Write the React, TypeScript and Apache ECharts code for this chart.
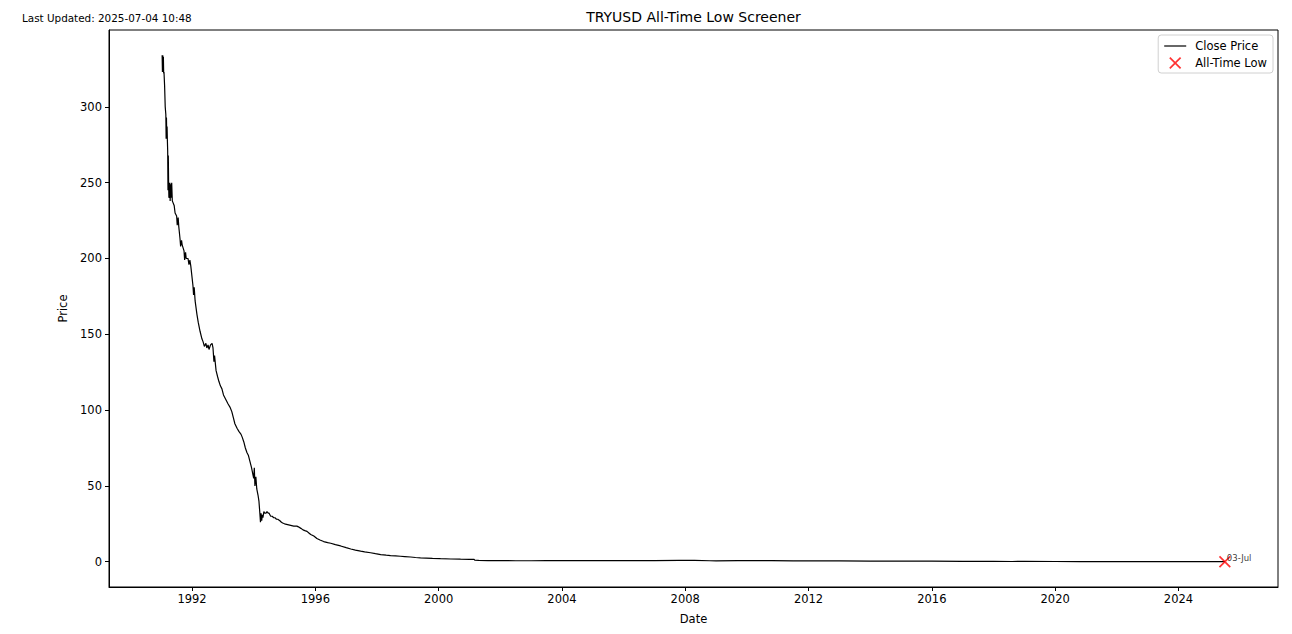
import React, { useEffect, useRef } from "react";
import * as echarts from "echarts";

// ---- data ----
const years: number[] = [
  1991.03, 1991.04, 1991.05, 1991.06, 1991.07, 1991.08, 1991.09, 1991.11, 1991.13,
  1991.15, 1991.16, 1991.17, 1991.18, 1991.19, 1991.2, 1991.21, 1991.22, 1991.23, 1991.24, 1991.25,
  1991.28, 1991.29, 1991.31, 1991.32, 1991.34, 1991.36, 1991.42, 1991.45,
  1991.5, 1991.52, 1991.55, 1991.57, 1991.61, 1991.63, 1991.66, 1991.68,
  1991.74, 1991.76, 1991.79, 1991.81, 1991.87, 1991.9, 1991.93, 1991.96,
  1992.03, 1992.05, 1992.07, 1992.1, 1992.16, 1992.2, 1992.26, 1992.32, 1992.36, 1992.4,
  1992.45, 1992.48, 1992.52, 1992.55, 1992.6, 1992.65, 1992.68, 1992.71, 1992.73, 1992.78,
  1992.83, 1992.87, 1992.92, 1992.97, 1993.02, 1993.07, 1993.12, 1993.17, 1993.23, 1993.29,
  1993.34, 1993.39, 1993.46, 1993.52, 1993.59, 1993.63, 1993.68, 1993.73, 1993.78, 1993.83,
  1993.88, 1993.93, 1993.97, 1994.0, 1994.02, 1994.04, 1994.07, 1994.1, 1994.14, 1994.17,
  1994.2, 1994.22, 1994.24, 1994.26, 1994.28, 1994.3, 1994.33, 1994.36, 1994.4, 1994.43,
  1994.47, 1994.5, 1994.55, 1994.6, 1994.65, 1994.69, 1994.74, 1994.78, 1994.85, 1994.9,
  1994.94, 1995.0, 1995.1, 1995.2, 1995.3, 1995.4, 1995.45, 1995.53, 1995.6, 1995.66,
  1995.73, 1995.79, 1995.85, 1995.95, 1996.05, 1996.15, 1996.27, 1996.4, 1996.5, 1996.65,
  1996.82, 1997.0, 1997.15, 1997.3, 1997.47, 1997.6, 1997.79, 1997.95, 1998.12, 1998.3,
  1998.44, 1998.6, 1998.76, 1998.9, 1999.09, 1999.25, 1999.41, 1999.6, 1999.8, 2000.06,
  2000.4, 2000.71, 2001.0, 2001.15, 2001.17, 2001.3, 2001.6, 2001.85, 2002.1, 2002.5,
  2003.0, 2003.5, 2004.0, 2004.4, 2005.0, 2006.0, 2006.4, 2007.0, 2007.8, 2008.3,
  2008.8, 2009.0, 2009.7, 2010.0, 2010.8, 2011.5, 2012.0, 2013.0, 2014.0, 2015.0,
  2016.0, 2017.0, 2018.0, 2018.6, 2019.0, 2020.0, 2020.8, 2021.0, 2021.9, 2022.0,
  2022.5, 2023.0, 2023.5, 2024.0, 2024.5, 2025.0, 2025.505,
];

const prices: number[] = [
  334, 323, 334, 323, 333, 322, 323, 314, 300,
  295, 279, 293, 280, 287, 278, 271, 245, 268, 250, 240,
  250, 238, 249, 240, 250, 238, 235, 230,
  228, 222, 227, 221, 213, 208, 212, 209,
  205, 199, 204, 200, 200, 196, 199, 195,
  182, 176, 181, 172, 163, 158, 152, 147, 145, 142,
  144, 141, 143, 140, 143, 144, 141, 132, 136, 126,
  122, 119, 116, 114, 110, 108, 106, 104, 102, 99,
  95, 91, 88, 86, 84, 82, 79, 75, 72, 70,
  66, 62, 58, 55, 62, 50, 56, 48, 44, 40,
  32, 26, 32, 27, 31, 29, 33, 32, 32, 33,
  32, 32, 30, 30, 29, 29, 28, 28, 27, 26,
  25.5, 25, 24.5, 24, 23.5, 23.5, 23, 22, 21, 20.5,
  20, 19, 18, 17, 15.3, 14.3, 13.3, 12.6, 12.2, 11.3,
  10.4, 9.3, 8.4, 7.7, 7.0, 6.5, 5.9, 5.3, 4.7, 4.3,
  4.0, 3.8, 3.6, 3.4, 3.1, 2.8, 2.6, 2.4, 2.2, 2.0,
  1.8, 1.65, 1.6, 1.55, 1.0, 0.85, 0.7, 0.72, 0.74, 0.65,
  0.65, 0.7, 0.7, 0.66, 0.74, 0.73, 0.66, 0.73, 0.86, 0.83,
  0.64, 0.62, 0.68, 0.67, 0.69, 0.6, 0.56, 0.53, 0.45, 0.38,
  0.34, 0.27, 0.25, 0.16, 0.18, 0.15, 0.12, 0.13, 0.07, 0.074,
  0.058, 0.05, 0.037, 0.032, 0.03, 0.026, 0.0253,
];

const atlYear: number[] = [2025.505];
const atlPrice: number[] = [0.0253];
const atlLabel: string[] = ["03-Jul"];

const xTicks: number[] = [1992, 1996, 2000, 2004, 2008, 2012, 2016, 2020, 2024];
const yTicks: number[] = [0, 50, 100, 150, 200, 250, 300];

const titleText = "TRYUSD All-Time Low Screener";
const updatedText = "Last Updated: 2025-07-04 10:48";

const FONT = "DejaVu Sans";
const X_PATH =
  "path://M0,1 L1,0 L5,4 L9,0 L10,1 L6,5 L10,9 L9,10 L5,6 L1,10 L0,9 L4,5 Z";
const LINE_ICON = "path://M0,0 L24,0 L24,1.5 L0,1.5 Z";

const GRID = { left: 109, right: 14, top: 30, bottom: 47 };
const W = 1292;

export default function App() {
  const ref = useRef<HTMLDivElement>(null);

  useEffect(() => {
    if (!ref.current) return;
    const chart = echarts.init(ref.current, null, { renderer: "svg" });

    const xMinD = Math.min(...years);
    const xMaxD = Math.max(...years);
    const yMinD = Math.min(...prices);
    const yMaxD = Math.max(...prices);
    const xPad = (xMaxD - xMinD) * 0.05;
    const yPad = (yMaxD - yMinD) * 0.05;

    const lineData = years.map((y, i) => [y, prices[i]]);
    const atlData = atlYear.map((y, i) => ({
      value: [y, atlPrice[i]],
      label: { formatter: atlLabel[i] },
    }));

    const plotCenter = (GRID.left + (W - GRID.right)) / 2;

    chart.setOption({
      animation: false,
      textStyle: { fontFamily: FONT },
      graphic: [
        {
          type: "text",
          x: plotCenter,
          y: 17,
          style: {
            text: titleText,
            fill: "#000",
            font: `normal 14px "${FONT}"`,
            align: "center",
            verticalAlign: "middle",
          },
        },
        {
          type: "text",
          x: 22,
          y: 18,
          style: {
            text: updatedText,
            fill: "#000",
            font: `normal 10.4px "${FONT}"`,
            align: "left",
            verticalAlign: "middle",
          },
        },
      ],
      legend: {
        orient: "vertical",
        right: 19,
        top: 35,
        padding: [5, 6, 4, 6],
        itemGap: 5,
        itemWidth: 22,
        itemHeight: 12,
        itemStyle: { borderWidth: 0 },
        backgroundColor: "#fff",
        borderColor: "#d0d0d0",
        borderWidth: 1,
        borderRadius: 3,
        textStyle: { fontFamily: FONT, fontSize: 11.5, color: "#000", padding: [0, 0, 0, 4] },
        data: [
          { name: "Close Price", icon: LINE_ICON, itemStyle: { color: "#222" } },
          { name: "All-Time Low" },
        ],
      },
      grid: {
        ...GRID,
        show: true,
        borderColor: "#000",
        borderWidth: 1,
        backgroundColor: "transparent",
      },
      xAxis: {
        type: "value",
        min: xMinD - xPad,
        max: xMaxD + xPad,
        name: "Date",
        nameLocation: "middle",
        nameGap: 26,
        nameTextStyle: { fontFamily: FONT, fontSize: 11.5, color: "#000" },
        axisLine: { show: true, onZero: false, lineStyle: { color: "#000", width: 1 } },
        axisTick: {
          show: true,
          length: 4,
          customValues: xTicks,
          lineStyle: { color: "#000" },
        },
        axisLabel: {
          customValues: xTicks,
          formatter: (v: number) => String(Math.round(v)),
          color: "#000",
          fontFamily: FONT,
          fontSize: 11.5,
          margin: 6,
        },
        splitLine: { show: false },
      },
      yAxis: {
        type: "value",
        min: yMinD - yPad,
        max: yMaxD + yPad,
        name: "Price",
        nameLocation: "middle",
        nameGap: 33,
        nameTextStyle: { fontFamily: FONT, fontSize: 11.5, color: "#000" },
        axisLine: { show: true, onZero: false, lineStyle: { color: "#000", width: 1 } },
        axisTick: {
          show: true,
          length: 4,
          customValues: yTicks,
          lineStyle: { color: "#000" },
        },
        axisLabel: {
          customValues: yTicks,
          formatter: (v: number) => String(Math.round(v)),
          color: "#000",
          fontFamily: FONT,
          fontSize: 11.5,
          margin: 7,
        },
        splitLine: { show: false },
      },
      series: [
        {
          name: "Close Price",
          type: "line",
          data: lineData,
          symbol: "none",
          showSymbol: false,
          lineStyle: { color: "#000", width: 1.2 },
          itemStyle: { color: "#000" },
          z: 2,
        },
        {
          name: "All-Time Low",
          type: "scatter",
          data: atlData,
          symbol: X_PATH,
          symbolSize: 12,
          itemStyle: { color: "#ff0000" },
          label: {
            show: true,
            position: [8, 2],
            align: "left",
            verticalAlign: "middle",
            color: "#000",
            fontFamily: FONT,
            fontSize: 8.5,
          },
          z: 3,
        },
      ],
    });

    return () => chart.dispose();
  }, []);

  return (
    <div
      ref={ref}
      style={{ position: "fixed", left: 0, top: 0, width: 1292, height: 634, background: "#fff" }}
    />
  );
}
